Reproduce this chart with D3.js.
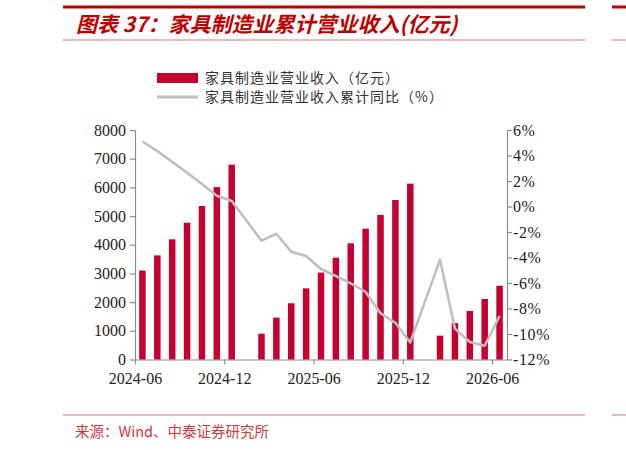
<!DOCTYPE html>
<html>
<head>
<meta charset="utf-8">
<script src="https://cdn.jsdelivr.net/npm/d3@7"></script>
<style>
  body { margin: 0; background: #fff; }
  svg { display: block; }
</style>
</head>
<body>
<div id="chart"></div>
<script>

var months = ["2024-06", "2024-07", "2024-08", "2024-09", "2024-10", "2024-11", "2024-12",
              "2025-01", "2025-02", "2025-03", "2025-04", "2025-05", "2025-06", "2025-07",
              "2025-08", "2025-09", "2025-10", "2025-11", "2025-12",
              "2026-01", "2026-02", "2026-03", "2026-04", "2026-05", "2026-06"];

// 累计营业收入（亿元），1月无单月数据
var revenue = [3100, 3630, 4190, 4770, 5350, 6010, 6790,
               null, 900, 1460, 1960, 2480, 3030, 3550,
               4050, 4560, 5040, 5560, 6130,
               null, 830, 1270, 1690, 2110, 2570];

// 累计同比（%）
var yoy = [5.1, 4.35, 3.5, 2.65, 1.76, 0.85, 0.43,
           null, -2.68, -2.14, -3.55, -3.88, -4.9, -5.45,
           -6.03, -6.7, -8.38, -9.12, -10.66,
           null, -4.17, -9.58, -10.62, -10.92, -8.59];

var xTicks = ["2024-06", "2024-12", "2025-06", "2025-12", "2026-06"];
var leftTicks = [0, 1000, 2000, 3000, 4000, 5000, 6000, 7000, 8000];
var rightTicks = [-12, -10, -8, -6, -4, -2, 0, 2, 4, 6];

var legendLabels = ["家具制造业营业收入（亿元）", "家具制造业营业收入累计同比（%）"];
var titleText = "图表 37：家具制造业累计营业收入(亿元)";
var sourceText = "来源：Wind、中泰证券研究所";

var width = 626, height = 450;
var barColour = "#C6002F", lineColour = "#BFBFBF", axisColour = "#8C8C8C";
var redDark = "#C00000", redLight = "#E07070";

var svg = d3.select("#chart")
            .append("svg")
            .attr("width", width)
            .attr("height", height);

// header / footer rules
var rules = [
  {x1: 63, x2: 585, y: 7, w: 3, c: redDark},
  {x1: 612, x2: 626, y: 7, w: 3, c: redDark},
  {x1: 63, x2: 585, y: 40, w: 1, c: redLight},
  {x1: 612, x2: 626, y: 40, w: 1, c: redLight},
  {x1: 63, x2: 585, y: 415, w: 1, c: redLight},
  {x1: 612, x2: 626, y: 415, w: 1, c: redLight}
];
svg.selectAll(".rule").data(rules).enter().append("line")
   .attr("class", "rule")
   .attr("x1", function(d){ return d.x1; })
   .attr("x2", function(d){ return d.x2; })
   .attr("y1", function(d){ return d.y; })
   .attr("y2", function(d){ return d.y; })
   .style("stroke", function(d){ return d.c; })
   .style("stroke-width", function(d){ return d.w; });

svg.append("text")
   .attr("x", 76)
   .attr("y", 32)
   .style("font-family", "'Noto Sans CJK SC', sans-serif")
   .style("font-size", "21px")
   .style("font-style", "italic")
   .style("font-weight", "bold")
   .style("fill", redDark)
   .text(titleText);

svg.append("text")
   .attr("x", 75)
   .attr("y", 437)
   .style("font-family", "'Noto Sans CJK SC', sans-serif")
   .style("font-size", "14.5px")
   .style("fill", "#D03A3A")
   .text(sourceText);

// scales
var x = d3.scaleLinear().domain([0, months.length]).range([135, 507]);
var yL = d3.scaleLinear().domain([0, 8000]).range([359.5, 130]);
var yR = d3.scaleLinear().domain([-12, 6]).range([359.5, 130]);
var barW = 6.5;

var tickFont = "'Liberation Serif', 'Times New Roman', serif";

// axes
var gL = svg.append("g")
            .attr("transform", "translate(" + x(0) + ",0)")
            .call(d3.axisLeft(yL).tickValues(leftTicks).tickSize(5).tickPadding(4).tickSizeOuter(0)
                    .tickFormat(d3.format("d")));

var gR = svg.append("g")
            .attr("transform", "translate(" + x(months.length) + ",0)")
            .call(d3.axisRight(yR).tickValues(rightTicks).tickSize(5).tickPadding(1).tickSizeOuter(0)
                    .tickFormat(function(d){ return d + "%"; }));

var gX = svg.append("g")
            .attr("transform", "translate(0," + yL(0) + ")")
            .call(d3.axisBottom(x)
                    .tickValues(xTicks.map(function(m){ return months.indexOf(m); }))
                    .tickSize(5).tickPadding(8).tickSizeOuter(0)
                    .tickFormat(function(i){ return months[i]; }));

[gL, gR, gX].forEach(function(g) {
  g.select(".domain").style("stroke", axisColour).style("stroke-width", 1.2);
  g.selectAll(".tick line").style("stroke", axisColour).style("stroke-width", 1.2);
  g.selectAll(".tick text")
   .style("font-family", tickFont)
   .style("font-size", "16px")
   .style("fill", "#222");
});
gR.selectAll(".tick text").style("letter-spacing", "0.6px");

// bars
var barData = months.map(function(m, i){ return {i: i, v: revenue[i]}; })
                    .filter(function(d){ return d.v !== null; });

svg.append("g").selectAll("rect")
   .data(barData).enter().append("rect")
   .attr("x", function(d){ return x(d.i + 0.5) - barW / 2; })
   .attr("width", barW)
   .attr("y", function(d){ return yL(d.v); })
   .attr("height", function(d){ return yL(0) - yL(d.v); })
   .style("fill", barColour);

// line (missing January points are skipped, not broken)
var lineData = months.map(function(m, i){ return {i: i, v: yoy[i]}; })
                     .filter(function(d){ return d.v !== null; });

svg.append("path")
   .datum(lineData)
   .attr("d", d3.line()
                .x(function(d){ return x(d.i + 0.5); })
                .y(function(d){ return yR(d.v); }))
   .style("fill", "none")
   .style("stroke", lineColour)
   .style("stroke-width", 2.6)
   .style("stroke-linejoin", "round");

// legend
var legend = svg.append("g").attr("class", "legend");
legend.append("rect")
      .attr("x", 157).attr("y", 73).attr("width", 41).attr("height", 10)
      .style("fill", barColour);
legend.append("line")
      .attr("x1", 157).attr("x2", 198).attr("y1", 97).attr("y2", 97)
      .style("stroke", lineColour).style("stroke-width", 3);
legend.selectAll("text")
      .data(legendLabels).enter().append("text")
      .attr("x", 205)
      .attr("y", function(d, i){ return 78 + i * 19; })
      .attr("dy", "0.35em")
      .style("font-family", "'Noto Sans CJK SC', sans-serif")
      .style("font-size", "14px")
      .style("letter-spacing", "1px")
      .style("fill", "#333")
      .text(function(d){ return d; });

</script>
</body>
</html>
